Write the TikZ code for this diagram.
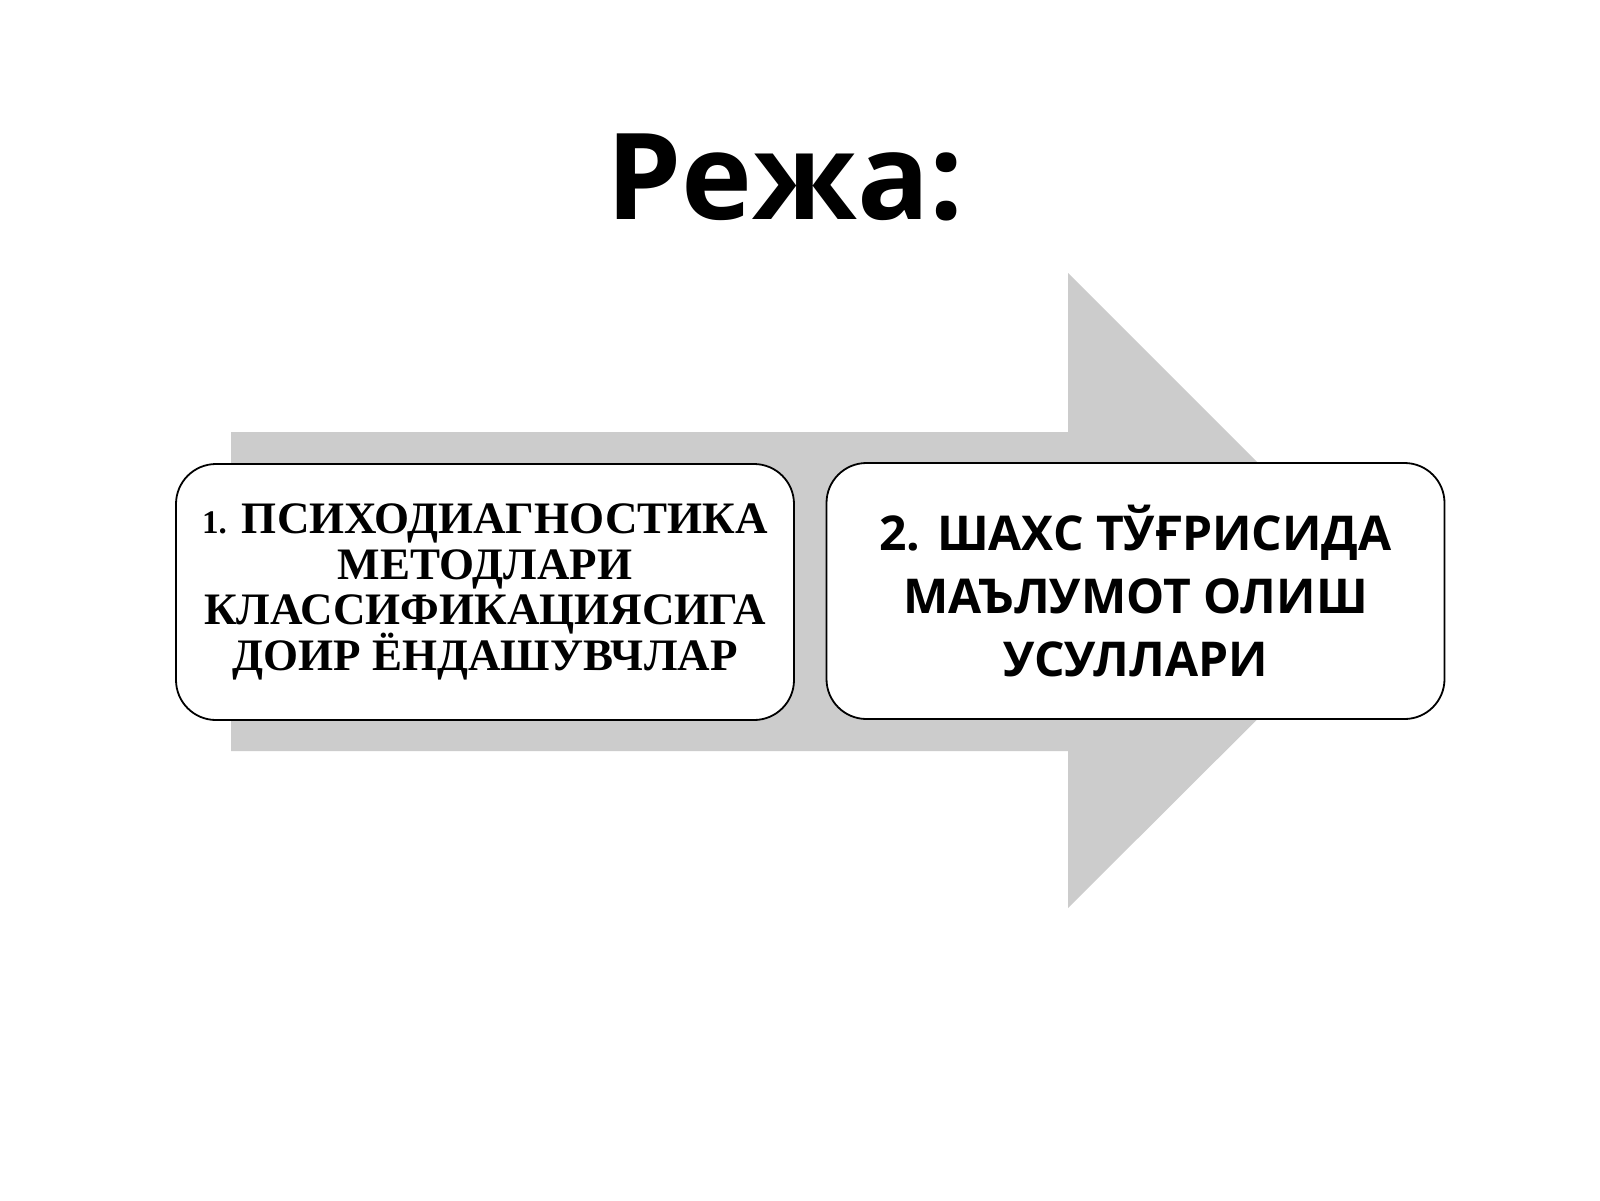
\documentclass[tikz,border=0pt]{standalone}
\usepackage{fontspec}
\setmainfont{Liberation Serif}
\newfontfamily\opensans{Open Sans}
\newcommand\tightlines{\lineskiplimit=-100pt\relax}
\definecolor{arrowgray}{RGB}{204,204,204}
\begin{document}
\begin{tikzpicture}[x=1pt,y=-1pt,
  planbox/.style={draw=black, line width=1.8pt, rounded corners=40pt, fill=white,
    minimum width=618pt, minimum height=256pt, inner sep=0pt, align=center, text=black}]
\useasboundingbox[fill=white] (0,0) rectangle (1600,1200);
% title
\node[font=\opensans\bfseries\fontsize{120}{120}\selectfont, anchor=base] (title) at (785,219) {Режа:};
% big arrow
\fill[arrowgray] (231,432) -- (1068,432) -- (1068,273) -- (1386,591) -- (1068,908) -- (1068,751) -- (231,751) -- cycle;
% boxes
\node[planbox, font=\bfseries\fontsize{45}{45.5}\selectfont\tightlines] (b1) at (485,592)
  {{\fontsize{33}{33}\selectfont 1.} ПСИХОДИАГНОСТИКА\\МЕТОДЛАРИ\\КЛАССИФИКАЦИЯСИГА\\ДОИР ЁНДАШУВЧЛАР};
\node[planbox, font=\opensans\bfseries\fontsize{48}{63}\selectfont\tightlines] (b2) at (1135.5,591)
  {2. ШАХС ТЎҒРИСИДА\\МАЪЛУМОТ ОЛИШ\\УСУЛЛАРИ};
\end{tikzpicture}
\end{document}
